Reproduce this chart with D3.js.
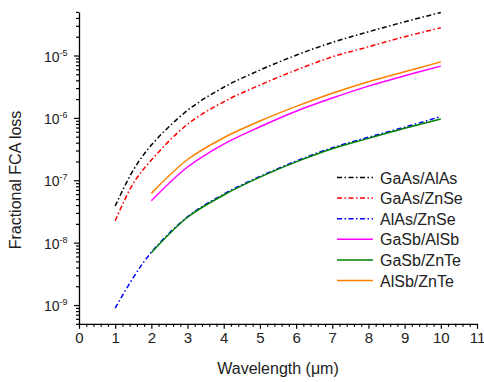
<!DOCTYPE html>
<html>
<head>
<meta charset="utf-8">
<script src="https://cdn.jsdelivr.net/npm/d3@7"></script>
<style>
	body { margin:0; background:#fff; }
	text { font-family: "Liberation Sans", Arial, sans-serif; fill:#222; }
</style>
</head>
<body>
<div id="chart"></div>
<script>
////////////////////////////////////////////////////
// data
////////////////////////////////////////////////////
var lamShort = [1, 1.5, 2, 3, 4, 5, 6, 7, 8, 9, 10];
var lamLong  = [2, 3, 4, 5, 6, 7, 8, 9, 10];

var gaAsAlAs = [3.86e-8, 1.45e-7, 3.66e-7, 1.32e-6, 3.1e-6, 5.83e-6, 1.01e-5, 1.62e-5, 2.4e-5, 3.47e-5, 4.9e-5];
var gaAsZnSe = [2.24e-8, 8.9e-8, 2.11e-7, 7.9e-7, 1.81e-6, 3.36e-6, 5.83e-6, 9.5e-6, 1.38e-5, 2.0e-5, 2.78e-5];
var alAsZnSe = [8.95e-10, 2.75e-9, 7.0e-9, 2.6e-8, 6.0e-8, 1.15e-7, 2.03e-7, 3.32e-7, 4.9e-7, 7.1e-7, 1.05e-6];
var gaSbAlSb = [4.69e-8, 1.63e-7, 3.8e-7, 7.2e-7, 1.28e-6, 2.08e-6, 3.23e-6, 4.73e-6, 6.76e-6];
var gaSbZnTe = [6.9e-9, 2.55e-8, 5.8e-8, 1.12e-7, 1.97e-7, 3.2e-7, 4.69e-7, 6.8e-7, 9.6e-7];
var alSbZnTe = [6.16e-8, 2.15e-7, 4.8e-7, 8.9e-7, 1.53e-6, 2.48e-6, 3.8e-6, 5.5e-6, 7.9e-6];

var seriesNames = ["GaAs/AlAs", "GaAs/ZnSe", "AlAs/ZnSe", "GaSb/AlSb", "GaSb/ZnTe", "AlSb/ZnTe"];
var xTicks = [0, 1, 2, 3, 4, 5, 6, 7, 8, 9, 10, 11];
var yDecades = [-9, -8, -7, -6, -5];

////////////////////////////////////////////////////
var W = 484, H = 382;
var series = [
	{name:seriesNames[0], x:lamShort, y:gaAsAlAs, color:"#000000", dash:"5,2.5,1.5,2.5"},
	{name:seriesNames[1], x:lamShort, y:gaAsZnSe, color:"#ff0000", dash:"5,2.5,1.5,2.5"},
	{name:seriesNames[2], x:lamShort, y:alAsZnSe, color:"#0000ff", dash:"5,2.5,1.5,2.5"},
	{name:seriesNames[3], x:lamLong,  y:gaSbAlSb, color:"#ff00ff", dash:null},
	{name:seriesNames[4], x:lamLong,  y:gaSbZnTe, color:"#008000", dash:null},
	{name:seriesNames[5], x:lamLong,  y:alSbZnTe, color:"#ff8000", dash:null}
];

var x = d3.scaleLinear().domain([0, 11]).range([79, 477]);
var y = d3.scaleLog().domain([5e-10, 5e-5]).range([323.8, 11.9]);

var svg = d3.select("#chart").append("svg")
	.attr("width", W)
	.attr("height", H);

////////////////////////////////////////////////////
// axes
////////////////////////////////////////////////////
var xMinor = d3.range(0, 11.001, 0.2).filter(function(v){ return Math.abs(v - Math.round(v)) > 1e-6; });
svg.append("g")
	.attr("transform", "translate(0," + y.range()[0] + ")")
	.call(d3.axisBottom(x).tickValues(xMinor).tickSize(3).tickFormat("").tickSizeOuter(0))
	.call(function(g){ g.select(".domain").remove(); });
var xAx = svg.append("g")
	.attr("transform", "translate(0," + y.range()[0] + ")")
	.call(d3.axisBottom(x).tickValues(xTicks).tickSize(5).tickSizeOuter(0).tickPadding(4).tickFormat(d3.format("d")));
xAx.selectAll("text").style("font-size", "15px").attr("fill", "#222");

var yMinor = [];
yDecades.concat([-10]).forEach(function(e){
	for (var k = 2; k <= 9; k++) {
		var v = k * Math.pow(10, e);
		if (v >= 5e-10 && v <= 5e-5) yMinor.push(v);
	}
});
svg.append("g")
	.attr("transform", "translate(" + x.range()[0] + ",0)")
	.call(d3.axisLeft(y).tickValues(yMinor).tickSize(3).tickFormat("").tickSizeOuter(0))
	.call(function(g){ g.select(".domain").remove(); });
var yAx = svg.append("g")
	.attr("transform", "translate(" + x.range()[0] + ",0)")
	.call(d3.axisLeft(y).tickValues(yDecades.map(function(e){ return Math.pow(10, e); })).tickSize(5).tickSizeOuter(0).tickFormat(""));
svg.selectAll(".domain").attr("stroke-width", 1.3);
svg.selectAll(".tick line").attr("stroke-width", 1.2);

var yLab = svg.append("g").selectAll("text")
	.data(yDecades)
	.enter().append("text")
		.attr("x", 44)
		.attr("y", function(e){ return y(Math.pow(10, e)) + 6; })
		.style("font-size", "14px");
yLab.append("tspan").text("10");
yLab.append("tspan")
	.attr("dy", -6)
	.style("font-size", "9px")
	.text(function(e){ return "-" + Math.abs(e); });

svg.append("text")
	.attr("transform", "translate(21,180) rotate(-90)")
	.attr("text-anchor", "middle")
	.style("font-size", "16px")
	.text("Fractional FCA loss");
svg.append("text")
	.attr("x", (x.range()[0] + x.range()[1]) / 2)
	.attr("y", 374)
	.attr("text-anchor", "middle")
	.style("font-size", "16px")
	.text("Wavelength (\u03bcm)");

////////////////////////////////////////////////////
// curves
////////////////////////////////////////////////////
var line = d3.line()
	.x(function(d){ return x(d[0]); })
	.y(function(d){ return y(d[1]); })
	.curve(d3.curveCatmullRom.alpha(0.5));

svg.append("g").selectAll("path")
	.data(series)
	.enter().append("path")
		.attr("d", function(s){ return line(s.x.map(function(v, i){ return [v, s.y[i]]; })); })
		.attr("fill", "none")
		.attr("stroke", function(s){ return s.color; })
		.attr("stroke-width", 1.5)
		.attr("stroke-dasharray", function(s){ return s.dash; });

////////////////////////////////////////////////////
// legend
////////////////////////////////////////////////////
var leg = svg.append("g").selectAll("g")
	.data(series)
	.enter().append("g")
		.attr("transform", function(s, i){ return "translate(337," + (177.5 + i * 20.6) + ")"; });
leg.append("line")
	.attr("x1", 0).attr("x2", 36)
	.attr("stroke", function(s){ return s.color; })
	.attr("stroke-width", 1.5)
	.attr("stroke-dasharray", function(s){ return s.dash; });
leg.append("text")
	.attr("x", 43)
	.attr("y", 6)
	.style("font-size", "16px")
	.text(function(s){ return s.name; });
</script>
</body>
</html>
